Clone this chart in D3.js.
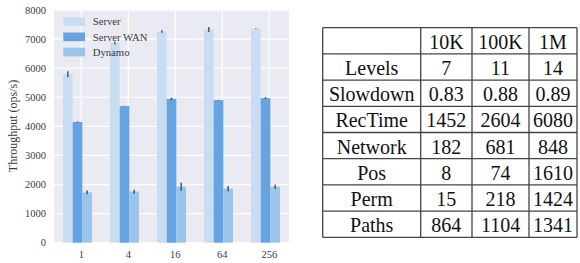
<!DOCTYPE html>
<html><head><meta charset="utf-8">
<script src="https://cdn.jsdelivr.net/npm/d3@7"></script>
<style>
html,body{margin:0;padding:0;background:#fff;}
svg{display:block;}
</style></head>
<body>
<svg id="c" width="580" height="263"></svg>
<script>
// ---- data ----
const categories = ["1", "4", "16", "64", "256"];
const seriesNames = ["Server", "Server WAN", "Dynamo"];
const serverVals = [5790, 6860, 7260, 7330, 7360];
const serverErr = [100, 45, 40, 85, 10];
const wanVals = [4150, 4695, 4945, 4900, 4970];
const wanErr = [20, 10, 45, 10, 35];
const dynamoVals = [1730, 1755, 1925, 1860, 1925];
const dynamoErr = [65, 65, 140, 90, 80];
const yTicks = [0, 1000, 2000, 3000, 4000, 5000, 6000, 7000, 8000];

const tableHeader = ["", "10K", "100K", "1M"];
const rowLabels = ["Levels", "Slowdown", "RecTime", "Network", "Pos", "Perm", "Paths"];
const col10K = ["7", "0.83", "1452", "182", "8", "15", "864"];
const col100K = ["11", "0.88", "2604", "681", "74", "218", "1104"];
const col1M = ["14", "0.89", "6080", "848", "1610", "1424", "1341"];

// ---- chart ----
const svg = d3.select("#c");
const colors = ["#c9ddf2", "#66a3e0", "#9bc4eb"];
const series = [
  {name: seriesNames[0], vals: serverVals, err: serverErr},
  {name: seriesNames[1], vals: wanVals, err: wanErr},
  {name: seriesNames[2], vals: dynamoVals, err: dynamoErr}
];
const L = 54, R = 289, T = 10, B = 242.7;
const x = d3.scaleBand().domain(categories).range([L, R]).paddingInner(0.383).paddingOuter(0.1915);
const xs = d3.scaleBand().domain(seriesNames).range([0, x.bandwidth()]);
const y = d3.scaleLinear().domain([0, 8000]).range([B, T]);
const tickX = c => x(c) + x.bandwidth() * 0.63;
const font = "Liberation Serif";

svg.append("rect").attr("x", L).attr("y", T).attr("width", R - L).attr("height", B - T).attr("fill", "#eaeaf2");
const g = svg.append("g");
g.selectAll(".hg").data(yTicks).join("line")
  .attr("x1", L).attr("x2", R).attr("y1", d => y(d)).attr("y2", d => y(d))
  .attr("stroke", "#fff").attr("stroke-width", 1.2);
g.selectAll(".vg").data(categories).join("line")
  .attr("x1", d => tickX(d)).attr("x2", d => tickX(d)).attr("y1", T).attr("y2", B)
  .attr("stroke", "#fff").attr("stroke-width", 1.2);

series.forEach((s, si) => {
  const sg = svg.append("g");
  sg.selectAll("rect").data(categories).join("rect")
    .attr("x", (c) => x(c) + xs(s.name))
    .attr("width", xs.bandwidth())
    .attr("y", (c, i) => y(s.vals[i]))
    .attr("height", (c, i) => y(0) - y(s.vals[i]))
    .attr("fill", colors[si]);
  sg.selectAll("line").data(categories).join("line")
    .attr("x1", c => x(c) + xs(s.name) + xs.bandwidth() / 2)
    .attr("x2", c => x(c) + xs(s.name) + xs.bandwidth() / 2)
    .attr("y1", (c, i) => y(s.vals[i] - s.err[i]))
    .attr("y2", (c, i) => y(s.vals[i] + s.err[i]))
    .attr("stroke", "#3d3d3d").attr("stroke-width", 1.5).attr("opacity", 0.85);
});

// axis labels
svg.append("g").selectAll("text").data(yTicks).join("text")
  .attr("x", 46).attr("y", d => y(d)).attr("dy", "0.35em")
  .attr("text-anchor", "end").attr("font-family", font).attr("font-size", 10.5)
  .attr("fill", "#3a3a3a").text(d => d);
svg.append("g").selectAll("text").data(categories).join("text")
  .attr("x", d => tickX(d)).attr("y", 258)
  .attr("text-anchor", "middle").attr("font-family", font).attr("font-size", 10.5)
  .attr("fill", "#3a3a3a").text(d => d);
svg.append("text").attr("transform", "translate(17,126) rotate(-90)")
  .attr("text-anchor", "middle").attr("font-family", font).attr("font-size", 12)
  .attr("fill", "#3a3a3a").text("Throughput (ops/s)");

// legend
const lg = svg.append("g");
seriesNames.forEach((n, i) => {
  lg.append("rect").attr("x", 63.3).attr("y", 17.3 + i * 15.2).attr("width", 21.7).attr("height", 8.7).attr("fill", colors[i]);
  lg.append("text").attr("x", 92.7).attr("y", 21.7 + i * 15.2).attr("dy", "0.35em")
    .attr("font-family", font).attr("font-size", 10.7).attr("fill", "#3a3a3a").text(n);
});

// ---- table ----
const colEdges = [322.7, 420.7, 472, 529, 577];
const rows = [tableHeader].concat(rowLabels.map((r, i) => [r, col10K[i], col100K[i], col1M[i]]));
const ty = d3.scaleBand().domain(d3.range(rows.length)).range([27.7, 237.3]);
const tg = svg.append("g");
tg.selectAll(".row").data(rows).join("g").each(function(row, ri) {
  d3.select(this).selectAll("text").data(row).join("text")
    .attr("transform", (d, ci) => `translate(${(colEdges[ci] + colEdges[ci + 1]) / 2},${ty(ri) + ty.bandwidth() / 2}) scale(1,1.1)`)
    .attr("dy", "0.36em")
    .attr("text-anchor", "middle").attr("font-family", font).attr("font-size", 20)
    .attr("fill", "#111").text(d => d);
});
const ls = "#444", lw = 1.3;
d3.range(rows.length + 1).forEach(i => {
  const yy = i < rows.length ? ty(i) : ty(rows.length - 1) + ty.bandwidth();
  tg.append("line").attr("x1", colEdges[0]).attr("x2", colEdges[colEdges.length - 1])
    .attr("y1", yy).attr("y2", yy).attr("stroke", ls).attr("stroke-width", lw);
});
colEdges.forEach(cx => {
  tg.append("line").attr("x1", cx).attr("x2", cx).attr("y1", 27.7).attr("y2", 237.3)
    .attr("stroke", ls).attr("stroke-width", lw);
});
</script>
</body></html>
